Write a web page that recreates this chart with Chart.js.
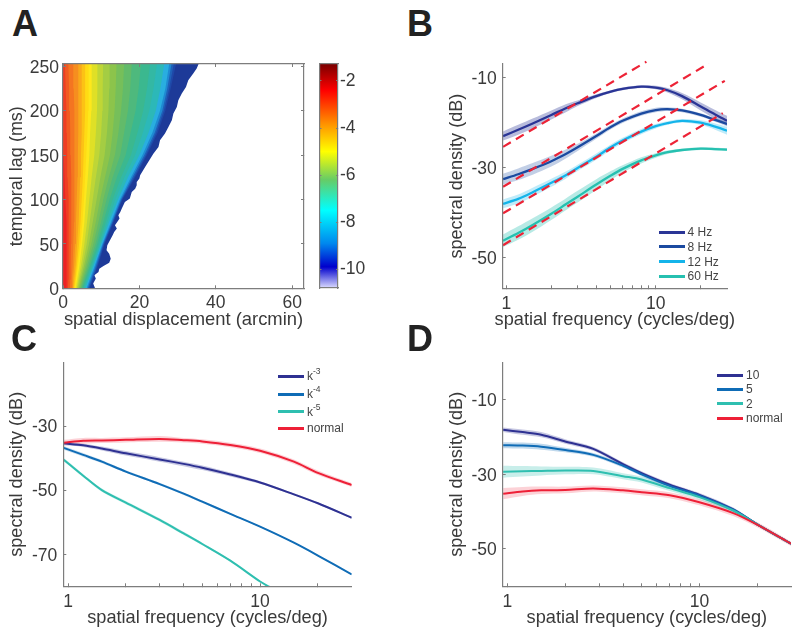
<!DOCTYPE html>
<html>
<head>
<meta charset="utf-8">
<script src="https://cdn.jsdelivr.net/npm/chart.js@4/dist/chart.umd.js"></script>
<style>
html,body{margin:0;padding:0;background:#fff;}
#page{position:relative;width:800px;height:635px;overflow:hidden;background:#fff;font-family:"Liberation Sans",Arial,sans-serif;}
canvas{position:absolute;display:block;}
.letter{position:absolute;font-size:36px;font-weight:bold;line-height:36px;color:#222;}
.lg{position:absolute;font-size:12px;line-height:14px;color:#444;white-space:nowrap;}
.lg sup{font-size:8.5px;line-height:0;vertical-align:baseline;position:relative;top:-6px;}
.sw{position:absolute;height:3px;}
</style>
</head>
<body>
<div id="page">
  <canvas id="cA" width="312" height="290" style="left:0;top:44px"></canvas>
  <canvas id="cBar" width="60" height="290" style="left:312px;top:44px"></canvas>
  <canvas id="cB" width="320" height="290" style="left:420px;top:44px"></canvas>
  <canvas id="cC" width="360" height="295" style="left:0;top:340px"></canvas>
  <canvas id="cD" width="380" height="295" style="left:420px;top:340px"></canvas>
  <div class="letter" style="left:12px;top:6px">A</div>
  <div class="letter" style="left:407px;top:6px">B</div>
  <div class="letter" style="left:11px;top:321px">C</div>
  <div class="letter" style="left:407px;top:321px">D</div>
</div>
<script>
// ---------- Panel A: contour boundaries (arcmin) at each temporal lag ----------
const lagsA = [0,10,25,50,75,100,125,150,175,200,225,252.5];
const levelM300 = [0.9,0.9,1.0,1.0,0.8,0.6,0.4,0.2,0.05,0,0,0];
const levelM325 = [1.3,1.4,1.5,1.5,1.5,1.4,1.2,1.1,1.0,0.9,0.7,0.5];
const levelM350 = [1.8,1.9,2.0,2.1,2.2,2.2,2.1,2.0,1.9,1.8,1.6,1.4];
const levelM375 = [2.1,2.3,2.5,2.7,2.9,3.0,3.0,3.0,3.0,2.9,2.8,2.7];
const levelM400 = [2.4,2.6,2.9,3.2,3.4,3.6,3.8,3.9,4.0,4.0,4.0,4.0];
const levelM425 = [2.7,2.9,3.3,3.7,4.1,4.3,4.5,4.7,4.9,4.9,4.9,4.9];
const levelM450 = [2.9,3.2,3.6,4.2,4.6,4.9,5.2,5.4,5.6,5.8,5.8,5.8];
const levelM475 = [3.1,3.4,3.9,4.6,5.1,5.5,5.8,6.1,6.4,6.6,6.7,6.7];
const levelM500 = [3.3,3.7,4.3,5.0,5.6,6.0,6.5,6.9,7.1,7.4,7.5,7.5];
const levelM525 = [3.6,4.0,4.7,5.6,6.3,6.9,7.5,8.2,8.6,8.9,9.0,9.0];
const levelM550 = [3.8,4.3,5.1,6.2,7.0,7.8,8.6,9.5,10,10.3,10.4,10.5];
const levelM575 = [4.1,4.6,5.5,6.8,7.8,8.8,9.8,10.9,11.5,11.9,12.1,12.2];
const levelM600 = [4.3,4.9,5.9,7.4,8.6,9.7,11,12.3,13,13.5,13.8,14];
const levelM625 = [4.55,5.2,6.3,7.95,9.3,10.55,12,13.6,14.5,15.2,15.7,16];
const levelM650 = [4.8,5.5,6.7,8.5,10,11.4,13,15,16,17,17.6,18];
const levelM675 = [5.05,5.8,7.05,8.95,10.6,12.2,14.1,16.4,17.7,19,19.8,20.4];
const levelM700 = [5.3,6.1,7.4,9.4,11.2,13,15.2,17.8,19.5,21,22,22.8];
const levelM725 = [5.6,6.4,7.7,9.7,11.65,13.7,16.1,18.9,20.9,22.6,23.7,24.6];
const levelM750 = [5.9,6.7,8.0,10,12.1,14.4,17,20,22.4,24.3,25.5,26.5];
const levelM800 = [6.2,7.0,8.3,10.3,12.6,14.9,17.8,20.8,23.4,25.4,26.8,27.8];
const levelM850 = [6.5,7.3,8.6,10.5,12.9,15.2,18.2,21.3,24,26,27.3,28.4];
const levelM900 = [6.8,7.6,8.9,10.7,13.1,15.4,18.6,21.7,24.4,26.4,27.8,29];
const levelM950 = [7,7.8,9.1,10.9,13.3,15.6,18.9,22,24.8,26.8,28.2,29.6];
const levelSets = [levelM300,levelM325,levelM350,levelM375,levelM400,levelM425,levelM450,levelM475,levelM500,levelM525,levelM550,levelM575,levelM600,levelM625,levelM650,levelM675,levelM700,levelM725,levelM750,levelM800,levelM850,levelM900,levelM950];
const levelColors = ['#ed2224','#ef3d23','#f15a22','#f47521','#f68e1f','#f9a81b','#fcc215','#ffdb14','#fde81c','#dfe026','#bfd636','#a4cd43','#8cc44b','#76bf5a','#62bb6a','#4eb97d','#3bb88f','#33b8a4','#2cb8b8','#29aee0','#1f8ad2','#1f60b8','#1f48a8'];
// Outer, jagged edge of the map
const edgeLag = [0,5.3,10.9,14.6,18.4,22.1,25.2,28.9,33.4,39,42.8,48.4,54,59.7,63.4,67.2,70.9,74.7,78.5,82.2,86,89.7,93.5,97.2,101,108.5,112.2,116,119.7,123.5,127.3,136.6,144.1,151.7,159.2,166.7,174.2,181.7,189.2,196.7,204.2,211.7,219.2,226.7,234.2,241.7,247.4,252.5];
const edgeX   = [8.4,7.9,8.6,8.2,9.3,9.5,10.6,12.1,12.5,12.1,11.4,11.6,12.3,13,13.4,14.1,13.6,14.2,14.8,14.5,15,15.4,15.8,16.2,17.5,18,18.9,19.3,19.3,20,20.2,21.5,22.6,23.7,25,25.4,26.7,27.6,28.5,28.9,29.8,30.2,31.1,32.2,32.8,34.1,35,35.5];
const edgeColor = '#1d3a98';
const ticksAx = [0,20,40,60];
const ticksAy = [0,50,100,150,200,250];
// Colour bar
const barRange = [-10.8,-1.28];
const barTicks = [-2,-4,-6,-8,-10];
const barStops  = [-1.28,-2.4,-3.9,-5,-6.2,-7.5,-8.9,-9.9,-10.8];
const barColors = ['#7a0000','#ff0000','#ff9900','#ffff00','#66cc66','#00ffff','#0088ee','#0000cc','#dcdcff'];

// ---------- Panel B ----------
const freqB = [0.95,1.2,1.5,2,2.5,3,4,5,6,8,10,12,15,20,25,30];
const b4  = [-23,-21.6,-20.2,-18.3,-16.8,-15.7,-14.1,-13.1,-12.5,-12,-12.2,-12.8,-14.1,-16.4,-18.2,-19.6];
const b8  = [-32.6,-31.5,-30.3,-28.6,-27,-25.5,-23,-21,-19.6,-18,-17.2,-17,-17.3,-18.3,-19.4,-20.3];
const b12 = [-38.1,-37,-35.5,-33.4,-31.7,-30.1,-27.6,-25.5,-24,-22,-20.8,-20.1,-19.6,-20,-20.9,-21.8];
const b60 = [-46.3,-44.6,-42.8,-40.3,-38.2,-36.5,-33.8,-31.8,-30.3,-28.4,-27.3,-26.6,-26.1,-25.8,-25.9,-26];
const b4Err  = [1,1.1,1.1,1,0.9,0.6,0.4,0.3,0.3,0.3,0.4,0.5,0.7,0.9,1,1.1];
const b8Err  = [1.2,1.3,1.3,1.2,1,0.8,0.6,0.5,0.5,0.5,0.5,0.4,0.4,0.4,0.4,0.5];
const b12Err = [1,1,1,0.9,0.8,0.7,0.7,0.6,0.6,0.6,0.5,0.4,0.4,0.5,0.7,0.9];
const b60Err = [1.4,1.5,1.5,1.4,1.3,1.3,1.2,1,0.8,0.7,0.5,0.4,0.3,0.3,0.3,0.3];
const dashFreq = [[0.95,8.66],[0.95,22.7],[0.95,29],[0.95,28.1]];
const dashDb   = [[-25.4,-6.44],[-34.3,-6.8],[-40.2,-10.7],[-47.3,-17.9]];
const labelsB = ['4 Hz','8 Hz','12 Hz','60 Hz'];
const colorsB = ['#2a3596','#1b4aa0','#14b4ea','#26c0b0'];

// ---------- Panel C ----------
const freqC = [0.95,1.2,1.5,2,3,4,5,7,10,15,20,30];
const cNormal = [-35.2,-34.6,-34.5,-34.3,-34,-34.4,-34.8,-35.9,-37.7,-41.1,-44.6,-48.4];
const cK3 = [-35.4,-36,-37,-38.5,-40.4,-41.8,-43,-45.1,-47.6,-51.3,-54.1,-58.6];
const cK4 = [-36.8,-39,-41.1,-44.2,-48.1,-51.1,-53.6,-57.4,-61.4,-66.4,-70.4,-76.3];
const freqK5 = [0.95,1.2,1.5,2,3,4,5,7,10,11.2];
const cK5 = [-40.5,-45.5,-50,-53.9,-59.3,-63.5,-66.8,-72,-78.5,-80.2];
const cNormalErr = [0.9,0.9,0.8,0.8,0.9,0.7,0.7,0.7,0.7,0.7,0.7,0.6];
const cK3Err = [0.5,0.5,0.6,0.7,0.7,0.7,0.7,0.6,0.4,0.3,0.3,0.3];
const cK4Err = [0.6,0.6,0.5,0.4,0.4,0.4,0.4,0.3,0.2,0.2,0.2,0.2];
const cK5Err = [0.5,0.5,0.5,0.5,0.5,0.5,0.4,0.3,0.2,0.2];
const labelsC = ['k-3','k-4','k-5','normal'];
const colorsC = ['#2e3192','#0f6cb6','#2fbfb0','#ee2037'];

// ---------- Panel D ----------
const freqD = [0.95,1.2,1.5,2,2.8,4,5,7,10,15,20,30];
const dNormal = [-35.2,-34.6,-34.3,-34.2,-33.8,-34.3,-34.8,-35.6,-37.5,-40.4,-43.5,-48.6];
const d10 = [-18.05,-18.7,-19.4,-21.2,-23.2,-27.3,-29.7,-32.8,-35.5,-39.4,-43.4,-48.6];
const d5  = [-22.2,-22.3,-22.6,-23.5,-24.8,-27.7,-30,-33.1,-35.7,-39.5,-43.4,-48.6];
const d2  = [-29.3,-29.2,-29.1,-29,-29.1,-30.5,-31.4,-33.7,-36.1,-39.7,-43.4,-48.6];
const dNormalErr = [1.5,1.2,1,0.9,0.8,0.8,0.8,0.8,0.8,0.8,0.7,0.6];
const d10Err = [0.6,0.7,0.7,0.6,0.5,0.5,0.5,0.5,0.5,0.5,0.3,0.3];
const d5Err  = [0.8,0.8,0.8,0.6,0.5,0.5,0.5,0.5,0.5,0.5,0.3,0.3];
const d2Err  = [1.6,1.4,1.2,1,0.9,0.8,0.8,0.8,0.7,0.6,0.3,0.3];
const labelsD = ['10','5','2','normal'];
const colorsD = ['#2e3192','#0f6cb6','#2fbfb0','#ee2037'];

const logTicks = [1,2,3,4,5,6,7,8,9,10,20];
const logLabels = [1,10];
const freqTitle = 'spatial frequency (cycles/deg)';
const FONT = '"Liberation Sans", Arial, sans-serif';
const TXT = '#3a3a3a', GRAY = '#7d7d7d';

function axis(o){
  return {
    type:o.type||'linear', position:o.position, min:o.min, max:o.max, display:true,
    afterBuildTicks:s=>{s.ticks=o.tickVals.map(v=>({value:v}));},
    afterFit:s=>{ if(s.isHorizontal()) s.height=o.size; else s.width=o.size;
      s.paddingLeft=s.paddingRight=s.paddingTop=s.paddingBottom=0;
      if(o.labelDy && !s._dyWrapped){ s._dyWrapped=true; const f=s._computeLabelItems.bind(s);
        s._computeLabelItems=(a)=>{const items=f(a); items.forEach(it=>{it.options.translation=[it.options.translation[0],it.options.translation[1]+o.labelDy];}); return items;}; } },
    grid:{drawOnChartArea:false,drawTicks:true,tickLength:-(o.tl||3),tickColor:o.tickColor||GRAY,tickWidth:1,z:1},
    border:{display:true,color:o.borderColor||GRAY,width:o.bw||1.2,z:1},
    ticks:{display:!!o.labels,autoSkip:false,maxRotation:0,minRotation:0,color:TXT,
      font:{family:FONT,size:o.fs||17.5},padding:o.pad||8,
      callback:v=>(o.labels&&o.labels.includes(v))?String(v):''},
    title:o.title?{display:true,text:o.title,color:TXT,font:{family:FONT,size:o.tfs||18},padding:o.tpad}:{display:false}
  };
}
const basePlugins = {legend:{display:false},tooltip:{enabled:false},title:{display:false}};
const pts = (xs,ys)=>xs.map((x,i)=>({x,y:ys[i]}));

// --- A
const mapDatasets = levelSets.map((arr,i)=>({
  label:'level '+i,
  data:lagsA.map((lag,j)=>({x:arr[j],y:lag})),
  borderWidth:0,pointRadius:0,backgroundColor:levelColors[i],fill:{value:0},tension:0
}));
mapDatasets.push({label:'edge',data:edgeLag.map((lag,j)=>({x:edgeX[j],y:lag})),
  borderWidth:0,pointRadius:0,backgroundColor:edgeColor,fill:{value:0},tension:0});
new Chart(document.getElementById('cA'),{
  type:'line',
  data:{datasets:mapDatasets},
  options:{indexAxis:'y',responsive:false,animation:false,plugins:basePlugins,
    layout:{padding:{top:20,right:8,left:0,bottom:0}},
    scales:{
      x:axis({position:'bottom',min:0,max:63.1,tickVals:ticksAx,labels:ticksAx,size:45.7,pad:7,title:'spatial displacement (arcmin)',tfs:18.4,tpad:{top:0,bottom:3.5}}),
      y:axis({position:'left',min:0,max:252.5,tickVals:ticksAy,labels:ticksAy,size:63,pad:7,labelDy:2,title:'temporal lag (ms)',tfs:18,tpad:{top:6,bottom:0}}),
      xTop:Object.assign(axis({position:'top',min:0,max:63.1,tickVals:ticksAx,size:0}),{axis:'x'}),
      yRight:Object.assign(axis({position:'right',min:0,max:252.5,tickVals:ticksAy,size:0}),{axis:'y'})
    }}
});

// --- colour bar
new Chart(document.getElementById('cBar'),{
  type:'bar',
  data:{labels:['scale'],datasets:[{label:'colour scale',data:[barRange],barPercentage:1,categoryPercentage:1,
    backgroundColor:(c)=>{
      const ch=c.chart, a=ch.chartArea; if(!a) return '#888';
      const g=ch.ctx.createLinearGradient(0,a.top,0,a.bottom);
      barStops.forEach((v,i)=>g.addColorStop((barRange[1]-v)/(barRange[1]-barRange[0]),barColors[i]));
      return g;
    }}]},
  options:{responsive:false,animation:false,plugins:basePlugins,
    layout:{padding:{top:20,bottom:46,left:0,right:0}},
    scales:{
      x:{display:false,grid:{display:false}},
      y:axis({position:'right',min:barRange[0],max:barRange[1],tickVals:barTicks,labels:barTicks,size:34,pad:4,tl:2}),
      yL:Object.assign(axis({position:'left',min:barRange[0],max:barRange[1],tickVals:barTicks,size:7.5,tl:2}),{axis:'y'}),
      xT:Object.assign(axis({position:'top',min:0,max:1,tickVals:[],size:0}),{axis:'x'}),
      xB:Object.assign(axis({position:'bottom',min:0,max:1,tickVals:[],size:0}),{axis:'x'})
    }}
});

// --- line panels
function series(xs,ys,err,color,label,ord,lw,bandAlpha){
  const up=ys.map((v,i)=>v+err[i]), lo=ys.map((v,i)=>v-err[i]);
  return [
    {data:pts(xs,up),borderWidth:0,pointRadius:0,fill:false,order:20,tension:0.3},
    {data:pts(xs,lo),borderWidth:0,pointRadius:0,fill:'-1',backgroundColor:color+bandAlpha,order:20,tension:0.3},
    {label,legendColor:color,data:pts(xs,ys),borderColor:color,borderWidth:lw,pointRadius:0,fill:false,order:ord,tension:0.3}
  ];
}
function lineChart(id,datasets,yMin,yMax,xMax,yTicks,left,right,top,canvasH,bottomY,canvasTop,titlePadY,titlePadX,plugins){
  return new Chart(document.getElementById(id),{
    type:'line',
    data:{datasets},
    plugins:plugins||[],
    options:{responsive:false,animation:false,plugins:basePlugins,
      layout:{padding:{top:top,right:right,left:0,bottom:0}},
      scales:{
        x:axis({type:'logarithmic',position:'bottom',min:0.945,max:xMax,tickVals:logTicks,labels:logLabels,size:canvasH-(bottomY-canvasTop),pad:8,tl:3,
          title:plugins?null:freqTitle,tfs:18.2,tpad:{top:0,bottom:titlePadX}}),
        y:axis({position:'left',min:yMin,max:yMax,tickVals:yTicks,labels:yTicks,size:left,pad:9,tl:3,labelDy:1.5,
          title:'spectral density (dB)',tfs:18.1,tpad:{top:titlePadY,bottom:0}})
      }}
  });
}
// The title of panel B is wider than its plot, so it is written centred without being squeezed.
const wideTitle = {id:'wideTitle',afterDraw(ch){
  const c=ch.ctx; c.save(); c.font='18.2px '+FONT; c.fillStyle=TXT; c.textAlign='center'; c.textBaseline='middle';
  c.fillText(freqTitle,(ch.chartArea.left+ch.chartArea.right)/2,ch.height-14); c.restore();
}};
function legend(chart,sw0,sw1,textX,rows,textDy){
  const page=document.getElementById('page');
  chart.data.datasets.filter(d=>d.legendColor).forEach((d,i)=>{
    const s=document.createElement('div'); s.className='sw';
    s.style.cssText=`left:${sw0}px;width:${sw1-sw0}px;top:${rows[i]-1.5}px;background:${d.legendColor}`;
    page.appendChild(s);
    const t=document.createElement('div'); t.className='lg';
    t.style.left=textX+'px'; t.style.top=(rows[i]-7+(textDy||0))+'px';
    const m=/^k(-\d)$/.exec(d.label);
    if(m){t.appendChild(document.createTextNode('k'));const u=document.createElement('sup');u.textContent=m[1];t.appendChild(u);}
    else t.textContent=d.label;
    page.appendChild(t);
  });
}

// B
const dsB = [].concat(
  dashFreq.map((f,i)=>({data:pts(f,dashDb[i]),borderColor:'#ed2336',borderWidth:2.2,borderDash:[9,6],pointRadius:0,fill:false,order:0,clip:false,tension:0})),
  series(freqB,b4,b4Err,colorsB[0],labelsB[0],1,2.3,'55'),
  series(freqB,b8,b8Err,colorsB[1],labelsB[1],2,2.3,'44'),
  series(freqB,b12,b12Err,colorsB[2],labelsB[2],3,2.3,'44'),
  series(freqB,b60,b60Err,colorsB[3],labelsB[3],4,2.3,'55')
);
const chB = lineChart('cB',dsB,-56.9,-6.95,30,[-10,-30,-50],82.7,13,20,290,288.3,44,26,3.5,[wideTitle]);
legend(chB,659,685,687.5,[232.3,246.7,261.7,276]);

// C
const dsC = [].concat(
  series(freqC,cK3,cK3Err,colorsC[0],labelsC[0],3,2,'44'),
  series(freqC,cK4,cK4Err,colorsC[1],labelsC[1],2,2,'33'),
  series(freqK5,cK5,cK5Err,colorsC[2],labelsC[2],1,2,'44'),
  series(freqC,cNormal,cNormalErr,colorsC[3],labelsC[3],0,2,'33')
);
const chC = lineChart('cC',dsC,-80,-10.1,30,[-30,-50,-70],63.3,8.3,22.3,295,586.3,340,6,6.2);
legend(chC,277.7,304,307,[376,394,411.7,428]);

// D
const dsD = [].concat(
  series(freqD,d10,d10Err,colorsD[0],labelsD[0],3,2,'44'),
  series(freqD,d5,d5Err,colorsD[1],labelsD[1],2,2,'44'),
  series(freqD,d2,d2Err,colorsD[2],labelsD[2],1,2,'44'),
  series(freqD,dNormal,dNormalErr,colorsD[3],labelsD[3],0,2,'33')
);
const chD = lineChart('cD',dsD,-60,0,30,[-10,-30,-50],82.7,9,22.3,295,586.3,340,26,6.2);
legend(chD,716.7,743,746,[375,389,403.7,418]);
</script>
</body>
</html>
